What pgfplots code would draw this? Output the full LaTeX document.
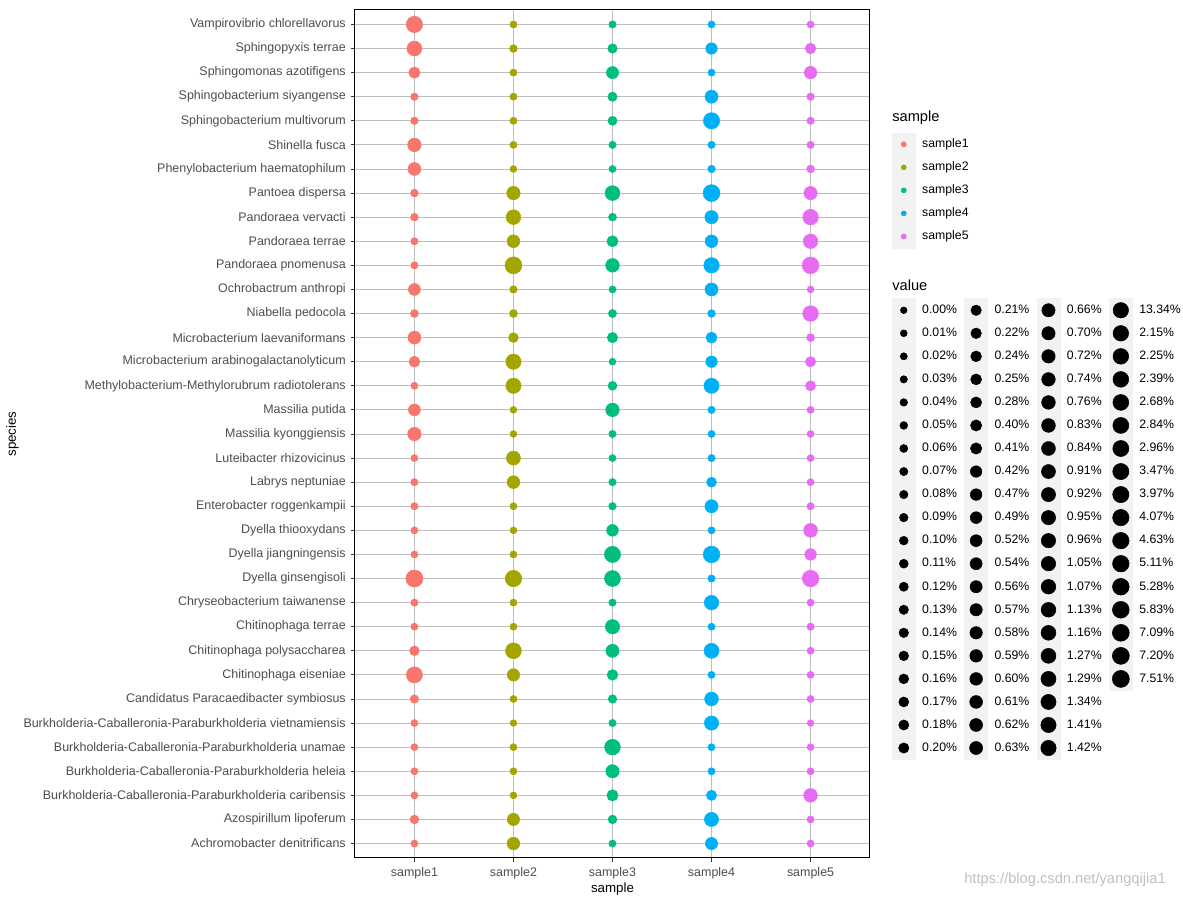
\documentclass[border=0pt]{standalone}
\usepackage{fontspec}
\setmainfont{Liberation Sans}
\usepackage{pgfplots}
\usepackage{pgfplotstable}
\pgfplotsset{compat=1.18}

\definecolor{cA}{HTML}{F8766D}
\definecolor{cB}{HTML}{A3A500}
\definecolor{cC}{HTML}{00BF7D}
\definecolor{cD}{HTML}{00B0F6}
\definecolor{cE}{HTML}{E76BF3}
\definecolor{gridc}{HTML}{BEBEBE}
\definecolor{keybg}{HTML}{F2F2F2}
\definecolor{tickc}{HTML}{4D4D4D}

\pgfplotsset{
  bub/.style={scatter, only marks, mark=*, forget plot,
    scatter/use mapped color={draw=#1, fill=#1},
    visualization depends on={sqrt(6.25+0.4567*\thisrow{level}) \as \msz},
    scatter/@pre marker code/.append style={/tikz/mark size=\msz},
    point meta=\thisrow{value}},
  vkeysty/.style={legend image code/.code={%
      \fill[keybg] (0pt,-8.64pt) rectangle (17.28pt,8.64pt);
      \fill[black] (8.64pt,0pt) circle[radius={sqrt(6.25+0.4567*#1)*1pt}];}},
  skeysty/.style={legend image code/.code={%
      \fill[keybg] (0pt,-8.64pt) rectangle (17.28pt,8.64pt);
      \fill[#1] (8.64pt,0pt) circle[radius=1.9pt];}},
  legsty/.style={legend cell align=left,
    legend style={draw=none, fill=none, inner sep=0pt, outer sep=0pt,
      row sep=-0.4pt, anchor=north west,
      font=\fontsize{9.2}{11}\selectfont,
      nodes={inner sep=0pt, outer sep=0pt},
      /tikz/every odd column/.append style={column sep=5pt},
      /tikz/every even column/.append style={column sep=5.5pt}}},
}
\newcommand{\vk}[2]{\addlegendimage{vkeysty=#1}\addlegendentry{#2\%}}
\newcommand{\vempty}{\addlegendimage{empty legend}\addlegendentry{}}

% sample1
\pgfplotstableread{
y value level
35 4.07 69
34 1.27 55
33 0.41 26
32 0.04 4
31 0.04 4
30 0.74 43
29 0.62 38
28 0.05 5
27 0.05 5
26 0.03 3
25 0.03 3
24 0.54 31
23 0.06 6
22 0.62 38
21 0.25 23
20 0.02 2
19 0.52 30
18 0.72 42
17 0.02 2
16 0.03 3
15 0.03 3
14 0.02 2
13 0.02 2
12 7.51 76
11 0.03 3
10 0.02 2
9 0.15 15
8 2.96 66
7 0.08 8
6 0.02 2
5 0.02 2
4 0.02 2
3 0.02 2
2 0.10 10
1 0.02 2
}\sampleA
% sample2
\pgfplotstableread{
y value level
35 0.02 2
34 0.05 5
33 0.02 2
32 0.02 2
31 0.02 2
30 0.02 2
29 0.01 1
28 0.72 42
27 1.13 53
26 0.61 37
25 7.20 75
24 0.04 4
23 0.06 6
22 0.16 16
21 1.42 59
20 1.41 58
19 0.01 1
18 0.01 1
17 0.91 47
16 0.61 37
15 0.02 2
14 0.01 1
13 0.02 2
12 4.63 70
11 0.02 2
10 0.02 2
9 2.68 64
8 0.58 34
7 0.02 2
6 0.00 0
5 0.02 2
4 0.02 2
3 0.01 1
2 0.57 33
1 0.60 36
}\sampleB
% sample3
\pgfplotstableread{
y value level
35 0.03 3
34 0.14 14
33 0.56 32
32 0.13 13
31 0.12 12
30 0.03 3
29 0.02 2
28 1.16 54
27 0.06 6
26 0.40 25
25 0.76 44
24 0.02 2
23 0.07 7
22 0.21 20
21 0.01 1
20 0.11 11
19 0.74 43
18 0.03 3
17 0.02 2
16 0.03 3
15 0.04 4
14 0.49 29
13 3.47 67
12 2.84 65
11 0.03 3
10 0.96 50
9 0.66 40
8 0.24 22
7 0.09 9
6 0.03 3
5 2.39 63
4 0.70 41
3 0.41 26
2 0.10 10
1 0.02 2
}\sampleC
% sample4
\pgfplotstableread{
y value level
35 0.02 2
34 0.42 27
33 0.02 2
32 0.63 39
31 3.97 68
30 0.03 3
29 0.04 4
28 7.09 74
27 0.70 41
26 0.60 36
25 13.34 60
24 0.63 39
23 0.05 5
22 0.28 24
21 0.42 27
20 1.34 57
19 0.03 3
18 0.02 2
17 0.03 3
16 0.17 17
15 0.66 40
14 0.02 2
13 5.28 72
12 0.03 3
11 1.05 51
10 0.02 2
9 1.29 56
8 0.02 2
7 0.83 45
6 0.95 49
5 0.02 2
4 0.02 2
3 0.20 19
2 0.92 48
1 0.57 33
}\sampleD
% sample5
\pgfplotstableread{
y value level
35 0.02 2
34 0.22 21
33 0.59 35
32 0.04 4
31 0.03 3
30 0.03 3
29 0.05 5
28 0.70 41
27 2.15 61
26 1.07 52
25 5.83 73
24 0.01 1
23 2.25 62
22 0.06 6
21 0.20 19
20 0.18 18
19 0.02 2
18 0.02 2
17 0.02 2
16 0.02 2
15 0.03 3
14 0.84 46
13 0.47 28
12 5.11 71
11 0.02 2
10 0.03 3
9 0.02 2
8 0.02 2
7 0.02 2
6 0.00 0
5 0.01 1
4 0.02 2
3 0.76 44
2 0.02 2
1 0.02 2
}\sampleE

\begin{document}
\begin{tikzpicture}
\path[use as bounding box] (-266.25pt,-30pt) rectangle (621pt,643.5pt);
\begin{axis}[
  at={(0pt,0pt)}, anchor=south west, scale only axis,
  width=386.25pt, height=636pt,
  xmin=0.4, xmax=5.6, ymin=0.4, ymax=35.6,
  xtick={1,2,3,4,5},
  xticklabels={sample1,sample2,sample3,sample4,sample5},
  ytick={1,...,35},
  yticklabels={Achromobacter denitrificans,Azospirillum lipoferum,Burkholderia-Caballeronia-Paraburkholderia caribensis,Burkholderia-Caballeronia-Paraburkholderia heleia,Burkholderia-Caballeronia-Paraburkholderia unamae,Burkholderia-Caballeronia-Paraburkholderia vietnamiensis,Candidatus Paracaedibacter symbiosus,Chitinophaga eiseniae,Chitinophaga polysaccharea,Chitinophaga terrae,Chryseobacterium taiwanense,Dyella ginsengisoli,Dyella jiangningensis,Dyella thiooxydans,Enterobacter roggenkampii,Labrys neptuniae,Luteibacter rhizovicinus,Massilia kyonggiensis,Massilia putida,Methylobacterium-Methylorubrum radiotolerans,Microbacterium arabinogalactanolyticum,Microbacterium laevaniformans,Niabella pedocola,Ochrobactrum anthropi,Pandoraea pnomenusa,Pandoraea terrae,Pandoraea vervacti,Pantoea dispersa,Phenylobacterium haematophilum,Shinella fusca,Sphingobacterium multivorum,Sphingobacterium siyangense,Sphingomonas azotifigens,Sphingopyxis terrae,Vampirovibrio chlorellavorus},
  grid=major,
  major grid style={draw=gridc, line width=0.6pt},
  axis line style={black, line width=0.75pt},
  tick align=outside, major tick length=2.75pt,
  xtick pos=left, ytick pos=left,
  tick style={draw=black!80, line width=0.6pt},
  ticklabel style={font=\fontsize{9.35}{11.2}\selectfont, text=tickc},
  xticklabel style={inner sep=0pt, anchor=north, yshift=-4pt},
  yticklabel style={inner sep=0pt, anchor=east, xshift=-4pt},
  xlabel={sample}, ylabel={species},
  label style={font=\fontsize{11}{13.2}\selectfont},
  every axis x label/.style={at={(axis description cs:0.5,-0.0365)}, anchor=center},
  every axis y label/.style={at={(axis description cs:-0.6654,0.5)}, rotate=90, anchor=center},
  legsty,
  legend style={at={(1.0427,0.8555)}},
]
\addplot[bub=cA] table[x expr=1, y=y] {\sampleA};
\addplot[bub=cB] table[x expr=2, y=y] {\sampleB};
\addplot[bub=cC] table[x expr=3, y=y] {\sampleC};
\addplot[bub=cD] table[x expr=4, y=y] {\sampleD};
\addplot[bub=cE] table[x expr=5, y=y] {\sampleE};
\addlegendimage{skeysty=cA}\addlegendentry{sample1}
\addlegendimage{skeysty=cB}\addlegendentry{sample2}
\addlegendimage{skeysty=cC}\addlegendentry{sample3}
\addlegendimage{skeysty=cD}\addlegendentry{sample4}
\addlegendimage{skeysty=cE}\addlegendentry{sample5}
\end{axis}
\begin{axis}[
  at={(0pt,0pt)}, anchor=south west, scale only axis,
  width=386.25pt, height=636pt, hide axis,
  xmin=0, xmax=1, ymin=0, ymax=1,
  legend columns=4, legsty,
  legend style={at={(1.0427,0.6598)}},
]
\addplot[draw=none, forget plot] coordinates {(0.5,0.5)};
\vk{0}{0.00}\vk{20}{0.21}\vk{40}{0.66}\vk{60}{13.34}
\vk{1}{0.01}\vk{21}{0.22}\vk{41}{0.70}\vk{61}{2.15}
\vk{2}{0.02}\vk{22}{0.24}\vk{42}{0.72}\vk{62}{2.25}
\vk{3}{0.03}\vk{23}{0.25}\vk{43}{0.74}\vk{63}{2.39}
\vk{4}{0.04}\vk{24}{0.28}\vk{44}{0.76}\vk{64}{2.68}
\vk{5}{0.05}\vk{25}{0.40}\vk{45}{0.83}\vk{65}{2.84}
\vk{6}{0.06}\vk{26}{0.41}\vk{46}{0.84}\vk{66}{2.96}
\vk{7}{0.07}\vk{27}{0.42}\vk{47}{0.91}\vk{67}{3.47}
\vk{8}{0.08}\vk{28}{0.47}\vk{48}{0.92}\vk{68}{3.97}
\vk{9}{0.09}\vk{29}{0.49}\vk{49}{0.95}\vk{69}{4.07}
\vk{10}{0.10}\vk{30}{0.52}\vk{50}{0.96}\vk{70}{4.63}
\vk{11}{0.11}\vk{31}{0.54}\vk{51}{1.05}\vk{71}{5.11}
\vk{12}{0.12}\vk{32}{0.56}\vk{52}{1.07}\vk{72}{5.28}
\vk{13}{0.13}\vk{33}{0.57}\vk{53}{1.13}\vk{73}{5.83}
\vk{14}{0.14}\vk{34}{0.58}\vk{54}{1.16}\vk{74}{7.09}
\vk{15}{0.15}\vk{35}{0.59}\vk{55}{1.27}\vk{75}{7.20}
\vk{16}{0.16}\vk{36}{0.60}\vk{56}{1.29}\vk{76}{7.51}
\vk{17}{0.17}\vk{37}{0.61}\vk{57}{1.34}\vempty
\vk{18}{0.18}\vk{38}{0.62}\vk{58}{1.41}\vempty
\vk{19}{0.20}\vk{39}{0.63}\vk{59}{1.42}\vempty
\end{axis}
\node[anchor=west, font=\fontsize{11}{13.2}\selectfont, inner sep=0pt] at (402.75pt,555pt) {sample};
\node[anchor=west, font=\fontsize{11}{13.2}\selectfont, inner sep=0pt] at (402.75pt,429.75pt) {value};
\node[text=black!25, font=\fontsize{11}{13.2}\selectfont, inner sep=0pt] at (532.5pt,-16.5pt) {https://blog.csdn.net/yangqijia1};
\end{tikzpicture}
\end{document}
